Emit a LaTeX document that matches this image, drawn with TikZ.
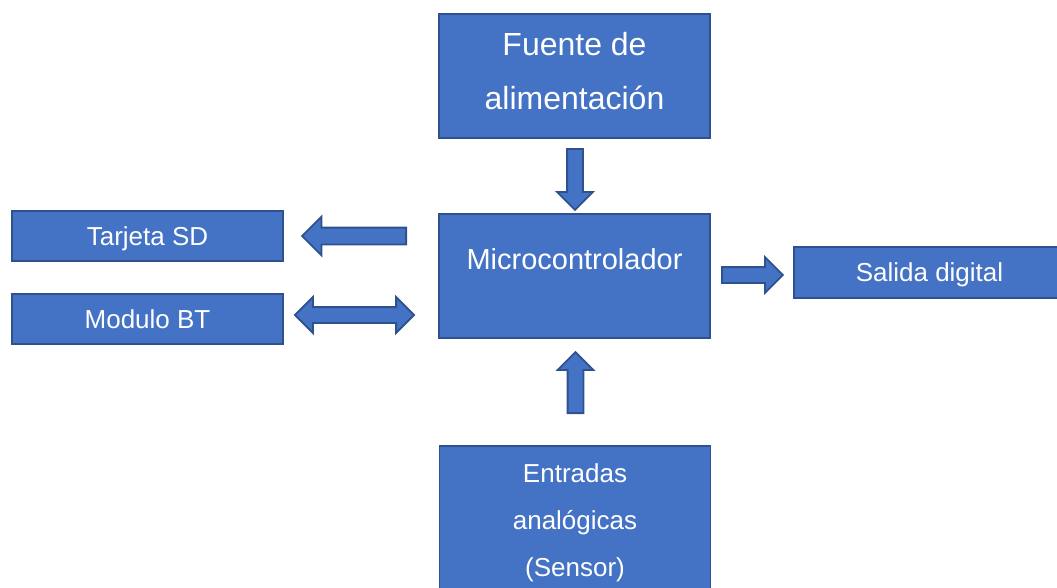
\documentclass[tikz,border=0pt]{standalone}
\usepackage{fontspec}
\setmainfont{Liberation Sans}
\usetikzlibrary{shapes.arrows}
\definecolor{boxblue}{HTML}{4472C4}
\definecolor{edgeblue}{HTML}{2F528F}

\begin{document}
\begin{tikzpicture}[%
                     x=1pt,y=-1pt,%
                     bloque/.style={draw=edgeblue,fill=boxblue,line width=1.6pt,%
                       inner sep=0pt,minimum width=271pt,text=white,text depth=0pt,%
                       font=\fontsize{26}{47}\selectfont},%
                     texto/.style={text=white,align=center,inner sep=0pt},%
                     flecha/.style={single arrow,draw=edgeblue,fill=boxblue,anchor=tail,%
                       line width=1.8pt,inner sep=7pt,single arrow head extend=10pt},%
                     dobleflecha/.style={double arrow,draw=edgeblue,fill=boxblue,%
                       line width=1.8pt,inner sep=7pt,double arrow head extend=10pt},%
                     ]%
                     \useasboundingbox (0,0) rectangle (1057,587);%
                     % bloques
                     \node[bloque,minimum height=124pt] (fuente) at (574.5,76) {};%
                     \node[bloque,minimum height=124pt] (micro) at (574.5,276) {};%
                     \node[bloque,minimum height=170pt] (sensor) at (575,531) {};%
                     \node[bloque,minimum height=50pt] (tarjeta) at (147.5,236) {Tarjeta SD};%
                     \node[bloque,minimum height=50pt] (modulo) at (147.5,319) {Modulo BT};%
                     \node[bloque,minimum height=51pt] (salida) at (929.5,272.5) {Salida digital};%
                     % textos
                     \node[texto,anchor=north,font=\fontsize{32}{54}\selectfont] (fuentetxt)%
                       at ([yshift=-19pt]fuente.north) {Fuente de\\alimentación};%
                     \node[texto,font=\fontsize{29}{35}\selectfont] (microtxt)%
                       at ([yshift=17pt]micro.center) {Microcontrolador};%
                     \node[texto,anchor=north,font=\fontsize{26}{47}\selectfont] (sensortxt)%
                       at ([yshift=-18pt]sensor.north) {Entradas\\analógicas\\(Sensor)};%
                     % flechas
                     \node[flecha,rotate=-90,minimum height=61pt] (fuentemicro) at (575,148) {};%
                     \node[flecha,rotate=90,minimum height=61pt] (sensormicro) at (575.5,414) {};%
                     \node[flecha,rotate=180,minimum height=104pt,inner sep=7.5pt,%
                       single arrow head extend=11pt] (microtarjeta) at (407,236) {};%
                     \node[dobleflecha,minimum height=119pt] (micromodulo) at (354.5,315) {};%
                     \node[flecha,minimum height=61pt] (microsalida) at (721,275) {};%
                     \end{tikzpicture}
\end{document}
